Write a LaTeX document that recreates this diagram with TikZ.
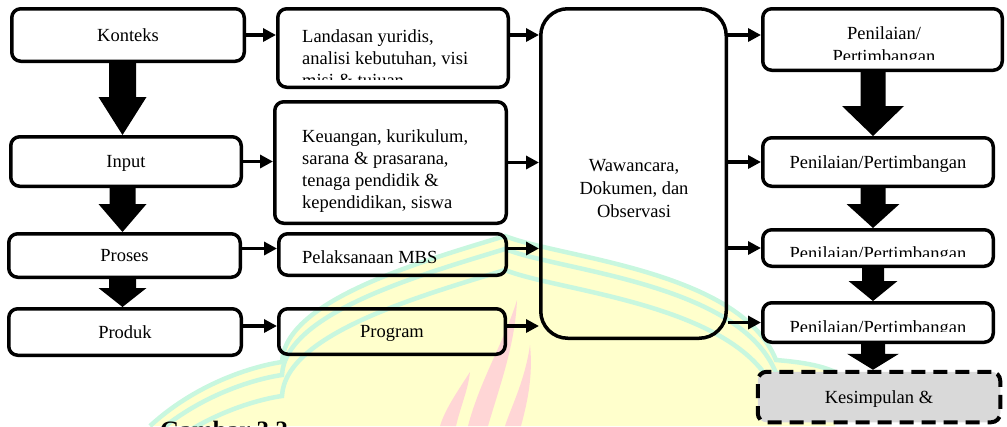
\documentclass[tikz,border=0pt]{standalone}
\usepackage{fontspec}
\setmainfont{Liberation Serif}
\usetikzlibrary{arrows.meta,calc}
\definecolor{wmyellow}{HTML}{FFFFCC}
\definecolor{wmgreen}{HTML}{C8F7DF}
\definecolor{wmpink}{HTML}{FFD6D6}
\definecolor{kesgray}{HTML}{D9D9D9}

% start, end, shaft half width, head half width, head length
\newcommand{\fatarrow}[5]{%
  \fill ($(#1)+(-#3,0)$) -- ($(#2)+(-#3,#5)$) -- ($(#2)+(-#4,#5)$) -- (#2)
    -- ($(#2)+(#4,#5)$) -- ($(#2)+(#3,#5)$) -- ($(#1)+(#3,0)$) -- cycle;}

\begin{document}
\begin{tikzpicture}[x=1pt,y=1pt,
  box/.style={draw, line width=3.5pt, rounded corners=9pt, inner sep=0pt, text depth=0pt},
  lbl/.style={inner sep=0pt, align=left},
  link/.style={line width=3.5pt, -{Triangle[length=13pt,width=13pt]}},
  every node/.style={font=\fontsize{18.5}{21.7}\selectfont}]
	\useasboundingbox (0,0) rectangle (1007,-426);
	% watermark
	\fill[wmyellow] (150,-426) .. controls (200,-380) and (260,-365) .. (282,-362)
	  .. controls (285,-300) and (420,-262) .. (505,-236)
	  .. controls (560,-258) and (740,-270) .. (776,-360)
	  .. controls (800,-362) and (820,-365) .. (835,-372) -- (835,-426) -- cycle;
	\foreach \s in {0,13,34}{
	  \begin{scope}[yshift=-\s pt]
	    \draw[wmgreen, line width=4.5pt] (150,-426) .. controls (200,-380) and (260,-365) .. (282,-362)
	      .. controls (285,-300) and (420,-262) .. (505,-236)
	      .. controls (560,-258) and (740,-270) .. (776,-360)
	      .. controls (800,-362) and (820,-365) .. (835,-372);
	  \end{scope}}
	\fill[wmpink] (517,-300) .. controls (505,-340) and (480,-380) .. (468,-426) -- (488,-426) .. controls (500,-385) and (515,-345) .. (517,-300);
	\fill[wmpink] (530,-345) .. controls (525,-380) and (512,-405) .. (505,-426) -- (521,-426) .. controls (528,-400) and (533,-375) .. (530,-345);
	\fill[wmpink] (470,-372) .. controls (455,-395) and (445,-410) .. (440,-426) -- (456,-426) .. controls (461,-405) and (468,-390) .. (470,-372);
	% left column
	\node[box, minimum width=232.5pt, minimum height=52.5pt] (konteks) at (128,-35) {Konteks};
	\node[box, minimum width=230.5pt, minimum height=49.5pt] (input) at (126,-161.5) {Input};
	\node[box, minimum width=231.5pt, minimum height=43.5pt] (proses) at (124.5,-255.5) {Proses};
	\node[box, minimum width=232.5pt, minimum height=46.5pt] (produk) at (125,-332) {Produk};
	% second column
	\node[box, minimum width=230.5pt, minimum height=78.5pt] (landasan) at (393,-48) {};
	\begin{scope}
	  \clip (276,-7) rectangle (510,-79);
	  \node[lbl, anchor=base west] (landtext) at (302,-86) {Landasan yuridis,\\analisi kebutuhan, visi\\misi \& tujuan};
	\end{scope}
	\node[box, minimum width=231.5pt, minimum height=121.5pt] (keuangan) at (390.5,-162.5) {};
	\node[lbl, anchor=base west] (keutext) at (302,-208) {Keuangan, kurikulum,\\sarana \& prasarana,\\tenaga pendidik \&\\kependidikan, siswa};
	\node[box, minimum width=227.5pt, minimum height=41.5pt] (pelaks) at (392.5,-254.5) {};
	\node[lbl, anchor=base west] (pelakstext) at (302,-263) {Pelaksanaan MBS};
	\node[box, minimum width=226.5pt, minimum height=45.5pt] (program) at (392,-331.5) {Program};
	% middle
	\node[box, rounded corners=27pt, minimum width=185.5pt, minimum height=329.5pt] (ww) at (633.5,-173.5) {};
	\node[inner sep=0pt, align=center, anchor=base, font=\fontsize{18.5}{23}\selectfont] (wwtext) at (634,-217) {Wawancara,\\Dokumen, dan\\Observasi};
	% right column
	\node[box, minimum width=239.5pt, minimum height=61.5pt] (pen1) at (882.5,-39.5) {};
	\begin{scope}
	  \clip (761,-7) rectangle (1004,-59);
	  \node[inner sep=0pt, align=center, anchor=base, font=\fontsize{18.5}{23}\selectfont] (pen1text) at (884,-62) {Penilaian/\\Pertimbangan};
	\end{scope}
	\node[box, minimum width=230.5pt, minimum height=48.5pt] (pen2) at (878,-162) {Penilaian/Pertimbangan};
	\node[box, minimum width=230.5pt, minimum height=36.5pt] (pen3) at (878,-248) {};
	\begin{scope}
	  \clip (761,-228) rectangle (995,-256);
	  \node[inner sep=0pt, anchor=base] (pen3text) at (878,-259) {Penilaian/Pertimbangan};
	\end{scope}
	\node[box, minimum width=230.5pt, minimum height=39.5pt] (pen4) at (878,-322.5) {};
	\begin{scope}
	  \clip (761,-301) rectangle (995,-331);
	  \node[inner sep=0pt, anchor=base] (pen4text) at (878,-333) {Penilaian/Pertimbangan};
	\end{scope}
	\node[box, line width=4pt, dash pattern=on 14pt off 8pt, fill=kesgray, minimum width=242.5pt, minimum height=50.5pt] (kes) at (879,-397) {Kesimpulan \&};
	% caption
	\node[inner sep=0pt, anchor=base west, font=\bfseries\fontsize{25}{30}\selectfont] (caption) at (160,-438) {Gambar 3.2};
	% thin arrows
	\draw[link] (konteks.east) -- (konteks.east -| landasan.west);
	\draw[link] (landasan.east |- konteks.east) -- (konteks.east -| ww.west);
	\draw[link] (input.east) -- (input.east -| keuangan.west);
	\draw[link] (keuangan.east) -- (keuangan.east -| ww.west);
	\coordinate (pa) at ([yshift=7pt]proses.east);
	\draw[link] (pa) -- (pa -| pelaks.west);
	\draw[link] (pa -| pelaks.east) -- (pa -| ww.west);
	\coordinate (pb) at ([yshift=6pt]produk.east);
	\draw[link] (pb) -- (pb -| program.west);
	\draw[link] (pb -| program.east) -- (pb -| ww.west);
	\draw[link] (ww.east |- konteks.east) -- (pen1.west |- konteks.east);
	\draw[link] (ww.east |- pen2.west) -- (pen2.west);
	\draw[link] (ww.east |- pen3.west) -- (pen3.west);
	\draw[link] (ww.east |- pen4.west) -- (pen4.west);
	% fat arrows
	\coordinate (laxis) at (122.5,0);
	\coordinate (raxis) at (873,0);
	\fatarrow{konteks.south -| laxis}{input.north -| laxis}{13.5}{24}{38}
	\fatarrow{input.south -| laxis}{proses.north -| laxis}{13}{24}{28}
	\fatarrow{proses.south -| laxis}{produk.north -| laxis}{13.5}{24}{19}
	\fatarrow{pen1.south -| raxis}{pen2.north -| raxis}{12.5}{31}{30}
	\fatarrow{pen2.south -| raxis}{pen3.north -| raxis}{12.5}{26.5}{24}
	\fatarrow{pen3.south -| raxis}{pen4.north -| raxis}{11}{24.5}{20}
	\fatarrow{pen4.south -| raxis}{kes.north -| raxis}{12}{26}{16}
\end{tikzpicture}
\end{document}
